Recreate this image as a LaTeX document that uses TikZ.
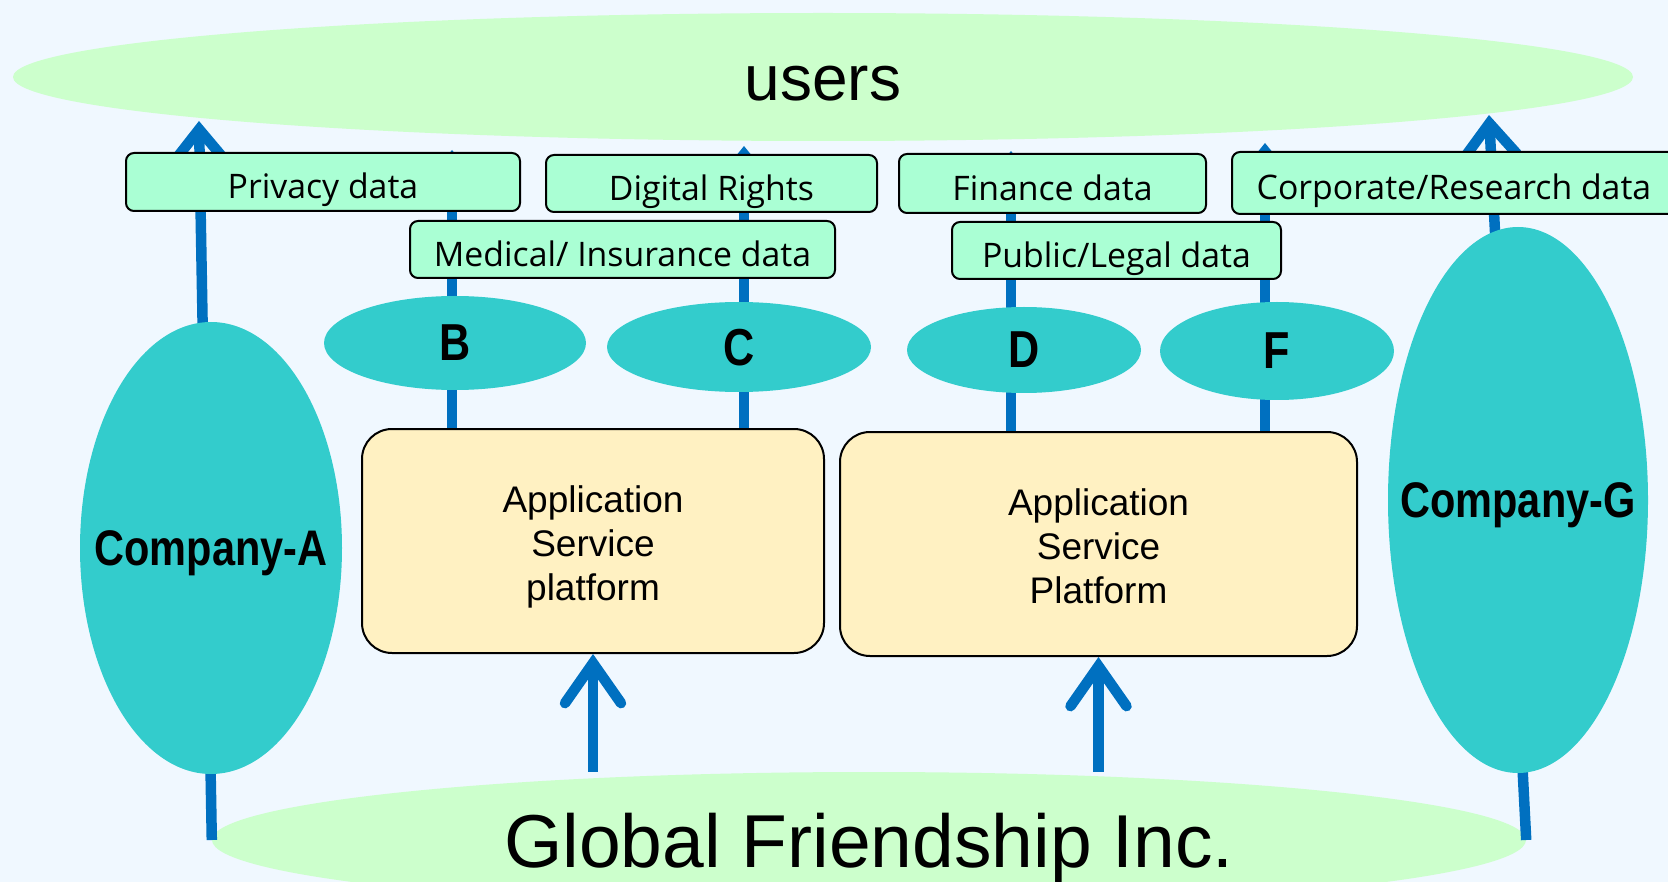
\documentclass[tikz,border=0pt]{standalone}
\usepackage{fontspec}
\setmainfont{Liberation Sans}
\newfontfamily\tagfont{Open Sans}
\newfontfamily\firmfont[FakeStretch=0.83]{Liberation Sans}
\usetikzlibrary{shapes.geometric,arrows.meta}
\definecolor{sky}{RGB}{240,248,255}
\definecolor{crowdcol}{RGB}{204,255,204}
\definecolor{firmcol}{RGB}{51,204,204}
\definecolor{tagcol}{RGB}{170,255,212}
\definecolor{appcol}{RGB}{255,241,194}
\definecolor{flowcol}{RGB}{0,112,192}
\pgfdeclarelayer{back}
\pgfdeclarelayer{links}
\pgfsetlayers{back,links,main}
\begin{document}
\begin{tikzpicture}[x=1pt,y=-1pt,
    crowd/.style={ellipse,fill=crowdcol,inner sep=0pt},
    firm/.style={ellipse,fill=firmcol,inner sep=0pt,inner xsep=-60pt,text depth=0pt,
      font=\firmfont\bfseries\fontsize{50}{50}\selectfont},
    agent/.style={ellipse,fill=firmcol,inner sep=0pt,text depth=0pt,
      font=\firmfont\bfseries\fontsize{52}{52}\selectfont},
    tag/.style={draw,line width=2pt,fill=tagcol,rounded corners=8pt,inner sep=0pt,
      text height=33.8pt,text depth=0pt,font=\tagfont\fontsize{33.8}{33.8}\selectfont},
    platform/.style={draw,line width=2pt,fill=appcol,rounded corners=30pt,inner sep=0pt,
      minimum width=462pt,minimum height=224pt,align=center,text height=127pt,text depth=8pt,
      font=\fontsize{37}{44}\selectfont},
    flow/.style={draw=flowcol,line width=10.5pt,-{Straight Barb[length=32pt,width=52pt]}},
    feed/.style={draw=flowcol,line width=10.5pt,
      -{Straight Barb[length=40pt,width=56pt,line cap=round]}}]
  \useasboundingbox (0,0) rectangle (1668,882);
  \begin{pgfonlayer}{back}
    \fill[sky] (0,0) rectangle (1668,882);
    \node[crowd,minimum width=1620pt,minimum height=128pt,text height=47pt,text depth=0pt,
      font=\fontsize{64}{64}\selectfont] (users) at (823,77) {users};
    \node[crowd,minimum width=1314pt,minimum height=136pt,text depth=0pt,
      font=\fontsize{75}{75}\selectfont] (global) at (869,840) {Global Friendship Inc.};
  \end{pgfonlayer}

  \node[firm,minimum width=262pt,minimum height=452pt] (compA) at (211,548) {Company-A};
  \node[firm,minimum width=260pt,minimum height=546pt] (compG) at (1518,500) {Company-G};

  \node[agent,minimum width=262pt,minimum height=94pt] (B) at (455,343) {B};
  \node[agent,minimum width=264pt,minimum height=90pt] (C) at (739,347) {C};
  \node[agent,minimum width=234pt,minimum height=86pt] (D) at (1024,350) {D};
  \node[agent,minimum width=234pt,minimum height=98pt] (F) at (1277,351) {F};

  \node[platform] (app1) at (593,541) {Application\\Service\\platform};
  \node[platform,minimum width=517pt] (app2) at (1098.5,544) {Application\\Service\\Platform};

  \node[tag,minimum width=394pt,minimum height=58pt] (privacy) at (323,182) {Privacy data};
  \node[tag,minimum width=331pt,minimum height=57pt] (rights) at (711.5,183.5) {Digital Rights};
  \node[tag,minimum width=425pt,minimum height=57pt] (medical) at (622.5,249.5) {Medical/ Insurance data};
  \node[tag,minimum width=307pt,minimum height=59pt] (finance) at (1052.5,183.5) {Finance data};
  \node[tag,minimum width=329pt,minimum height=57pt] (legal) at (1116.5,250.5) {Public/Legal data};
  \node[tag,minimum width=444pt,minimum height=62pt] (research) at (1454,183) {Corporate/Research data};

  \coordinate (upA) at (199,121);
  \coordinate (upG) at (1489,115);
  \coordinate (tipB) at (452,150);
  \coordinate (tipC) at (744,146);
  \coordinate (tipD) at (1011,151);
  \coordinate (tipF) at (1265,143);

  \begin{pgfonlayer}{links}
    \draw[flow] (global.west) -- (upA);
    \draw[flow] (global.east) -- (upG);
    \draw[flow] (app1.north -| tipB) -- (tipB);
    \draw[flow] (app1.north -| tipC) -- (tipC);
    \draw[flow] (app2.north -| tipD) -- (tipD);
    \draw[flow] (app2.north -| tipF) -- (tipF);
  \end{pgfonlayer}
  \draw[feed] (global.north -| app1.south) -- (app1.south);
  \draw[feed] (global.north -| app2.south) -- (app2.south);
\end{tikzpicture}
\end{document}
